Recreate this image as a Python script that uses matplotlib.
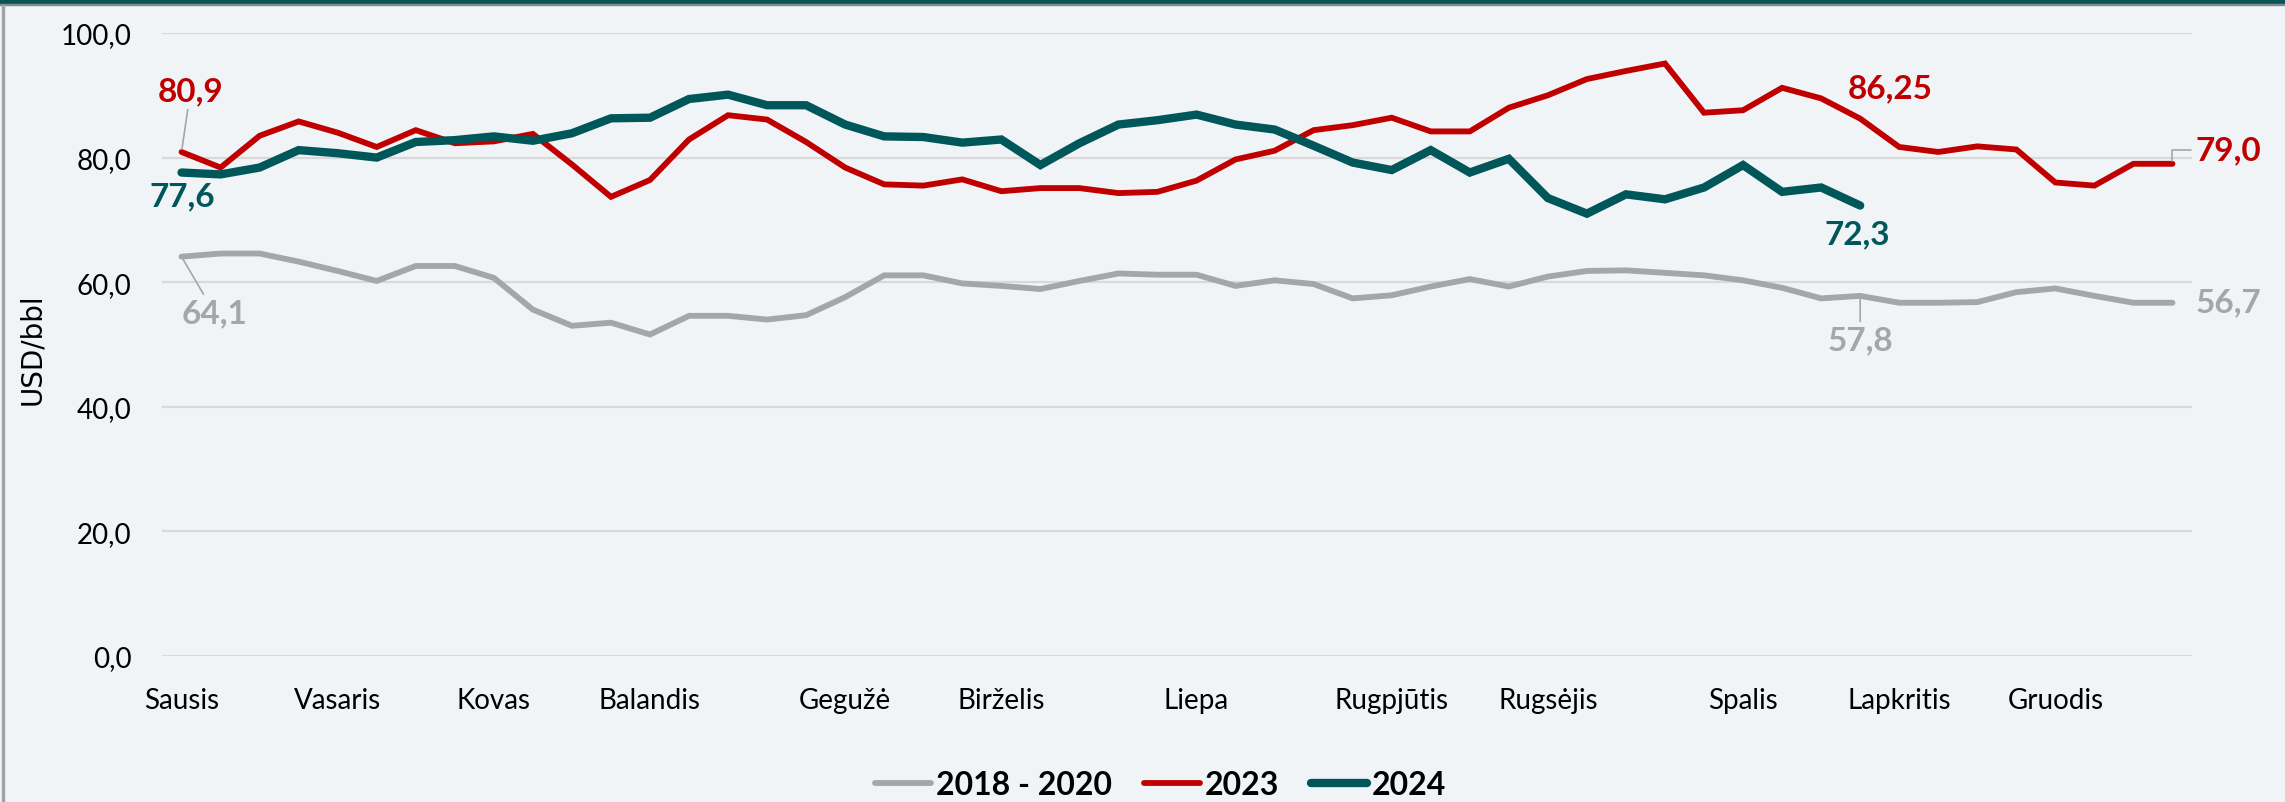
import matplotlib
matplotlib.use("Agg")
import matplotlib.pyplot as plt
from matplotlib.ticker import FuncFormatter

plt.rcParams['font.family'] = ['Lato', 'DejaVu Sans']

# month labels at week positions
month_pos = [0, 4, 8, 12, 17, 21, 26, 31, 35, 40, 44, 48]
months = ["Sausis", "Vasaris", "Kovas", "Balandis", "Gegužė", "Birželis",
          "Liepa", "Rugpjūtis", "Rugsėjis", "Spalis", "Lapkritis", "Gruodis"]

# weekly prices, USD/bbl
avg_18_20 = [64.1, 64.6, 64.6, 63.3, 61.8, 60.2, 62.6, 62.6, 60.7, 55.6,
             53.0, 53.5, 51.6, 54.6, 54.6, 54.0, 54.7, 57.6, 61.1, 61.1,
             59.8, 59.4, 58.9, 60.2, 61.4, 61.2, 61.2, 59.4, 60.3, 59.7,
             57.4, 57.9, 59.3, 60.5, 59.3, 60.9, 61.8, 61.9, 61.5, 61.1,
             60.3, 59.1, 57.4, 57.8, 56.7, 56.7, 56.8, 58.4, 59.0, 57.8,
             56.7, 56.7]
y2023 = [80.9, 78.4, 83.5, 85.8, 84.0, 81.7, 84.4, 82.3, 82.6, 83.8,
         78.9, 73.7, 76.4, 82.9, 86.8, 86.1, 82.5, 78.4, 75.7, 75.5,
         76.5, 74.6, 75.1, 75.1, 74.3, 74.5, 76.3, 79.7, 81.1, 84.4,
         85.2, 86.4, 84.2, 84.2, 88.0, 90.0, 92.6, 93.9, 95.1, 87.2,
         87.6, 91.2, 89.5, 86.25, 81.7, 80.9, 81.8, 81.3, 76.0, 75.5,
         79.0, 79.0]
y2024 = [77.6, 77.3, 78.4, 81.2, 80.7, 80.0, 82.5, 82.8, 83.4, 82.7,
         83.9, 86.3, 86.4, 89.4, 90.1, 88.4, 88.4, 85.3, 83.4, 83.3,
         82.4, 82.9, 78.8, 82.3, 85.3, 86.0, 86.9, 85.3, 84.5, 81.9,
         79.2, 78.0, 81.2, 77.6, 79.8, 73.5, 71.0, 74.1, 73.3, 75.2,
         78.8, 74.5, 75.2, 72.3]

bg = "#F0F4F7"
c_gray = "#A6A6A6"
c_red = "#C00000"
c_green = "#00575A"

fig = plt.figure(figsize=(22.85, 8.03), dpi=100, facecolor=bg)
ax = fig.add_axes([0.0709, 0.1818, 0.8884, 0.7759])
ax.set_facecolor(bg)

l1, = ax.plot(range(len(avg_18_20)), avg_18_20, color=c_gray, lw=4.2, solid_capstyle='round', solid_joinstyle='miter', label="2018 - 2020")
l2, = ax.plot(range(len(y2023)), y2023, color=c_red, lw=4.2, solid_capstyle='round', solid_joinstyle='miter', label="2023")
l3, = ax.plot(range(len(y2024)), y2024, color=c_green, lw=6, solid_capstyle='round', solid_joinstyle='miter', label="2024")

ax.set_xlim(-0.5, 51.5)
ax.set_ylim(0, 100)
ax.set_yticks([0, 20, 40, 60, 80, 100])
ax.yaxis.set_major_formatter(FuncFormatter(lambda v, p: f"{v:.1f}".replace(".", ",")))
ax.set_xticks(month_pos)
ax.set_xticklabels(months)
ax.tick_params(axis='both', length=0, labelsize=20, colors='black')
ax.tick_params(axis='y', pad=22)
ax.tick_params(axis='x', pad=22)
ax.grid(axis='y', color="#D9D9D9", lw=1.6)
ax.set_axisbelow(True)
for s in ax.spines.values():
    s.set_visible(False)

fig.text(0.014, 0.565, "USD/bbl", rotation=90, va='center', ha='center',
         fontsize=20, family='DejaVu Sans')

# data labels
lead = dict(arrowstyle='-', color='#A6A6A6', lw=1.2, shrinkA=1, shrinkB=2)
kw = dict(fontsize=24, fontweight='bold', ha='center', va='center', annotation_clip=False)
ax.annotate("80,9", xy=(0, y2023[0]), xytext=(0.23, 90.7), color=c_red, arrowprops=lead, **kw)
ax.annotate("77,6", xy=(0, y2024[0]), xytext=(0.02, 73.8), color=c_green, **kw)
ax.annotate("64,1", xy=(0, avg_18_20[0]), xytext=(0.84, 55.1), color=c_gray, arrowprops=lead, **kw)
ax.annotate("86,25", xy=(43, y2023[43]), xytext=(43.78, 91.2), color=c_red, **kw)
ax.annotate("72,3", xy=(43, y2024[43]), xytext=(42.93, 67.7), color=c_green, **kw)
ax.annotate("57,8", xy=(43, avg_18_20[43]), xytext=(43.0, 50.7), color=c_gray, arrowprops=lead, **kw)
ax.annotate("79,0", xy=(51, y2023[51]), xytext=(52.43, 81.2), color=c_red,
            arrowprops=dict(lead, connectionstyle="angle,angleA=0,angleB=90,rad=0"), **kw)
ax.annotate("56,7", xy=(51, avg_18_20[51]), xytext=(52.43, 56.8), color=c_gray, **kw)

leg = fig.legend(handles=[l1, l2, l3], loc='center', bbox_to_anchor=(0.508, 0.022),
                 ncol=3, frameon=False, handlelength=1.75, handletextpad=0.15,
                 columnspacing=1.0, prop={'weight': 'bold', 'size': 23})
for h in leg.legend_handles:
    h.set_solid_capstyle('round')

# top band and left border
fig.patches.append(plt.Rectangle((0, 0.9935), 1, 0.0065, transform=fig.transFigure, color="#0B5358", zorder=10))
fig.patches.append(plt.Rectangle((0, 0.9925), 1, 0.0012, transform=fig.transFigure, color="#7F8C8D", zorder=10))
fig.patches.append(plt.Rectangle((0.0008, 0), 0.0009, 0.993, transform=fig.transFigure, color="#A0A4A8", zorder=10))

fig.savefig("out.png", dpi=100, facecolor=bg)
